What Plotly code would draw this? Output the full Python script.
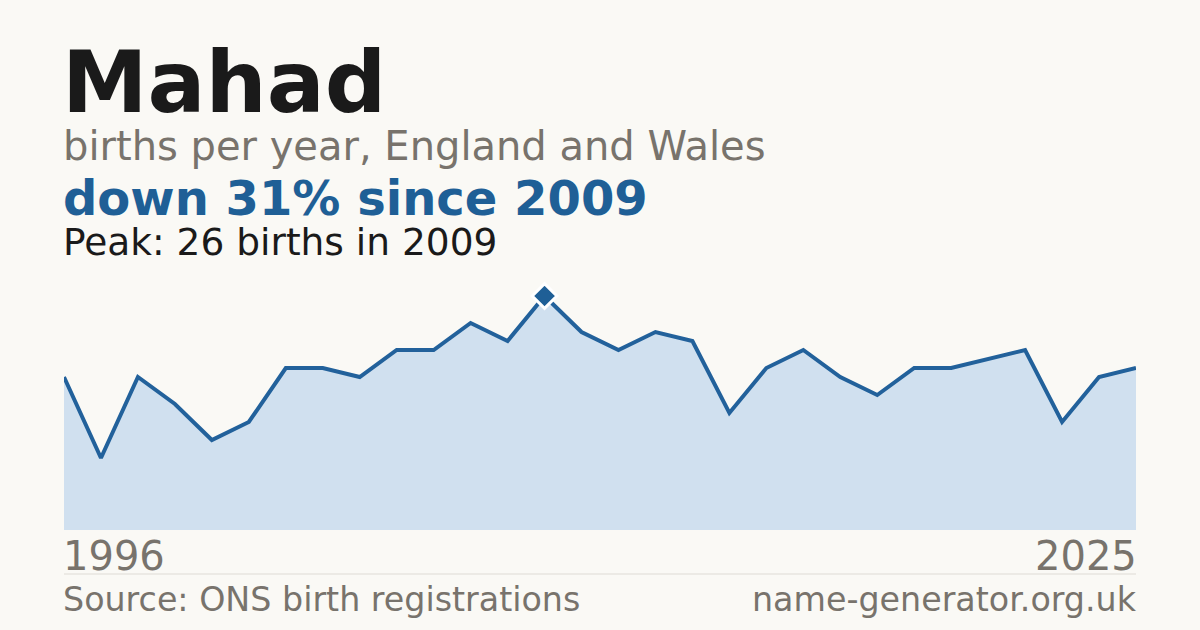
import plotly.graph_objects as go

years = list(range(1996, 2026))
births = [17, 8, 17, 14, 10, 12, 18, 18, 17, 20, 20, 23, 21, 26, 22, 20, 22, 21,
          13, 18, 20, 17, 15, 18, 18, 19, 20, 12, 17, 18]
title_text = "Mahad"
subtitle_text = "births per year, England and Wales"
change_text = "down 31% since 2009"
peak_text = "Peak: 26 births in 2009"
source_text = "Source: ONS birth registrations"
site_text = "name-generator.org.uk"

W, H = 1200, 630
BG = "#faf9f5"
LINE = "#22619b"
FILL = "#d0e0ef"
GREY = "#78736c"
FONT = "DejaVu Sans"

def px(x):
    return x / W

def py(y):
    return (H - y) / H

peak_i = max(range(len(births)), key=lambda i: births[i])

fig = go.Figure()
fig.add_trace(go.Scatter(
    x=years, y=births, mode="lines", fill="tozeroy", fillcolor=FILL,
    line=dict(color=LINE, width=4), hoverinfo="skip", showlegend=False))
fig.add_trace(go.Scatter(
    x=[years[peak_i]], y=[births[peak_i]], mode="markers",
    marker=dict(symbol="diamond", size=19, color="#1f5f96", line=dict(color="white", width=3)),
    hoverinfo="skip", showlegend=False))

ann = []
def txt(t, x, y, size, color, bold=False, xanchor="left"):
    ann.append(dict(text=f"<b>{t}</b>" if bold else t, x=px(x), y=py(y), xref="paper", yref="paper",
                    xanchor=xanchor, yanchor="middle", showarrow=False,
                    font=dict(family=FONT, size=size, color=color)))

txt(title_text, 60, 82, 86, "#1a1a1a", bold=True)
txt(subtitle_text, 61, 146, 40, GREY)
txt(change_text, 61, 198, 48, "#1f5f96", bold=True)
txt(peak_text, 61, 242, 37.5, "#1a1a1a")
txt(str(years[0]), 61, 556, 40, GREY)
txt(str(years[-1]), 1139, 556, 40, GREY, xanchor="right")
txt(source_text, 61, 599, 33.3, GREY)
txt(site_text, 1139, 599, 33.3, GREY, xanchor="right")

fig.update_layout(
    width=W, height=H, margin=dict(l=0, r=0, t=0, b=0),
    paper_bgcolor=BG, plot_bgcolor=BG,
    xaxis=dict(domain=[px(64), px(1136)], range=[years[0], years[-1]], visible=False, fixedrange=True),
    yaxis=dict(domain=[py(530), py(278)], range=[0, 28], visible=False, fixedrange=True),
    annotations=ann,
    shapes=[dict(type="line", xref="paper", yref="paper", x0=px(64), x1=px(1136),
                 y0=py(574), y1=py(574), line=dict(color="#dedbd5", width=1))],
)

fig.write_html("out.html", config={"displayModeBar": False},
               post_script="document.body.style.margin='0';document.body.style.background='" + BG + "';")
